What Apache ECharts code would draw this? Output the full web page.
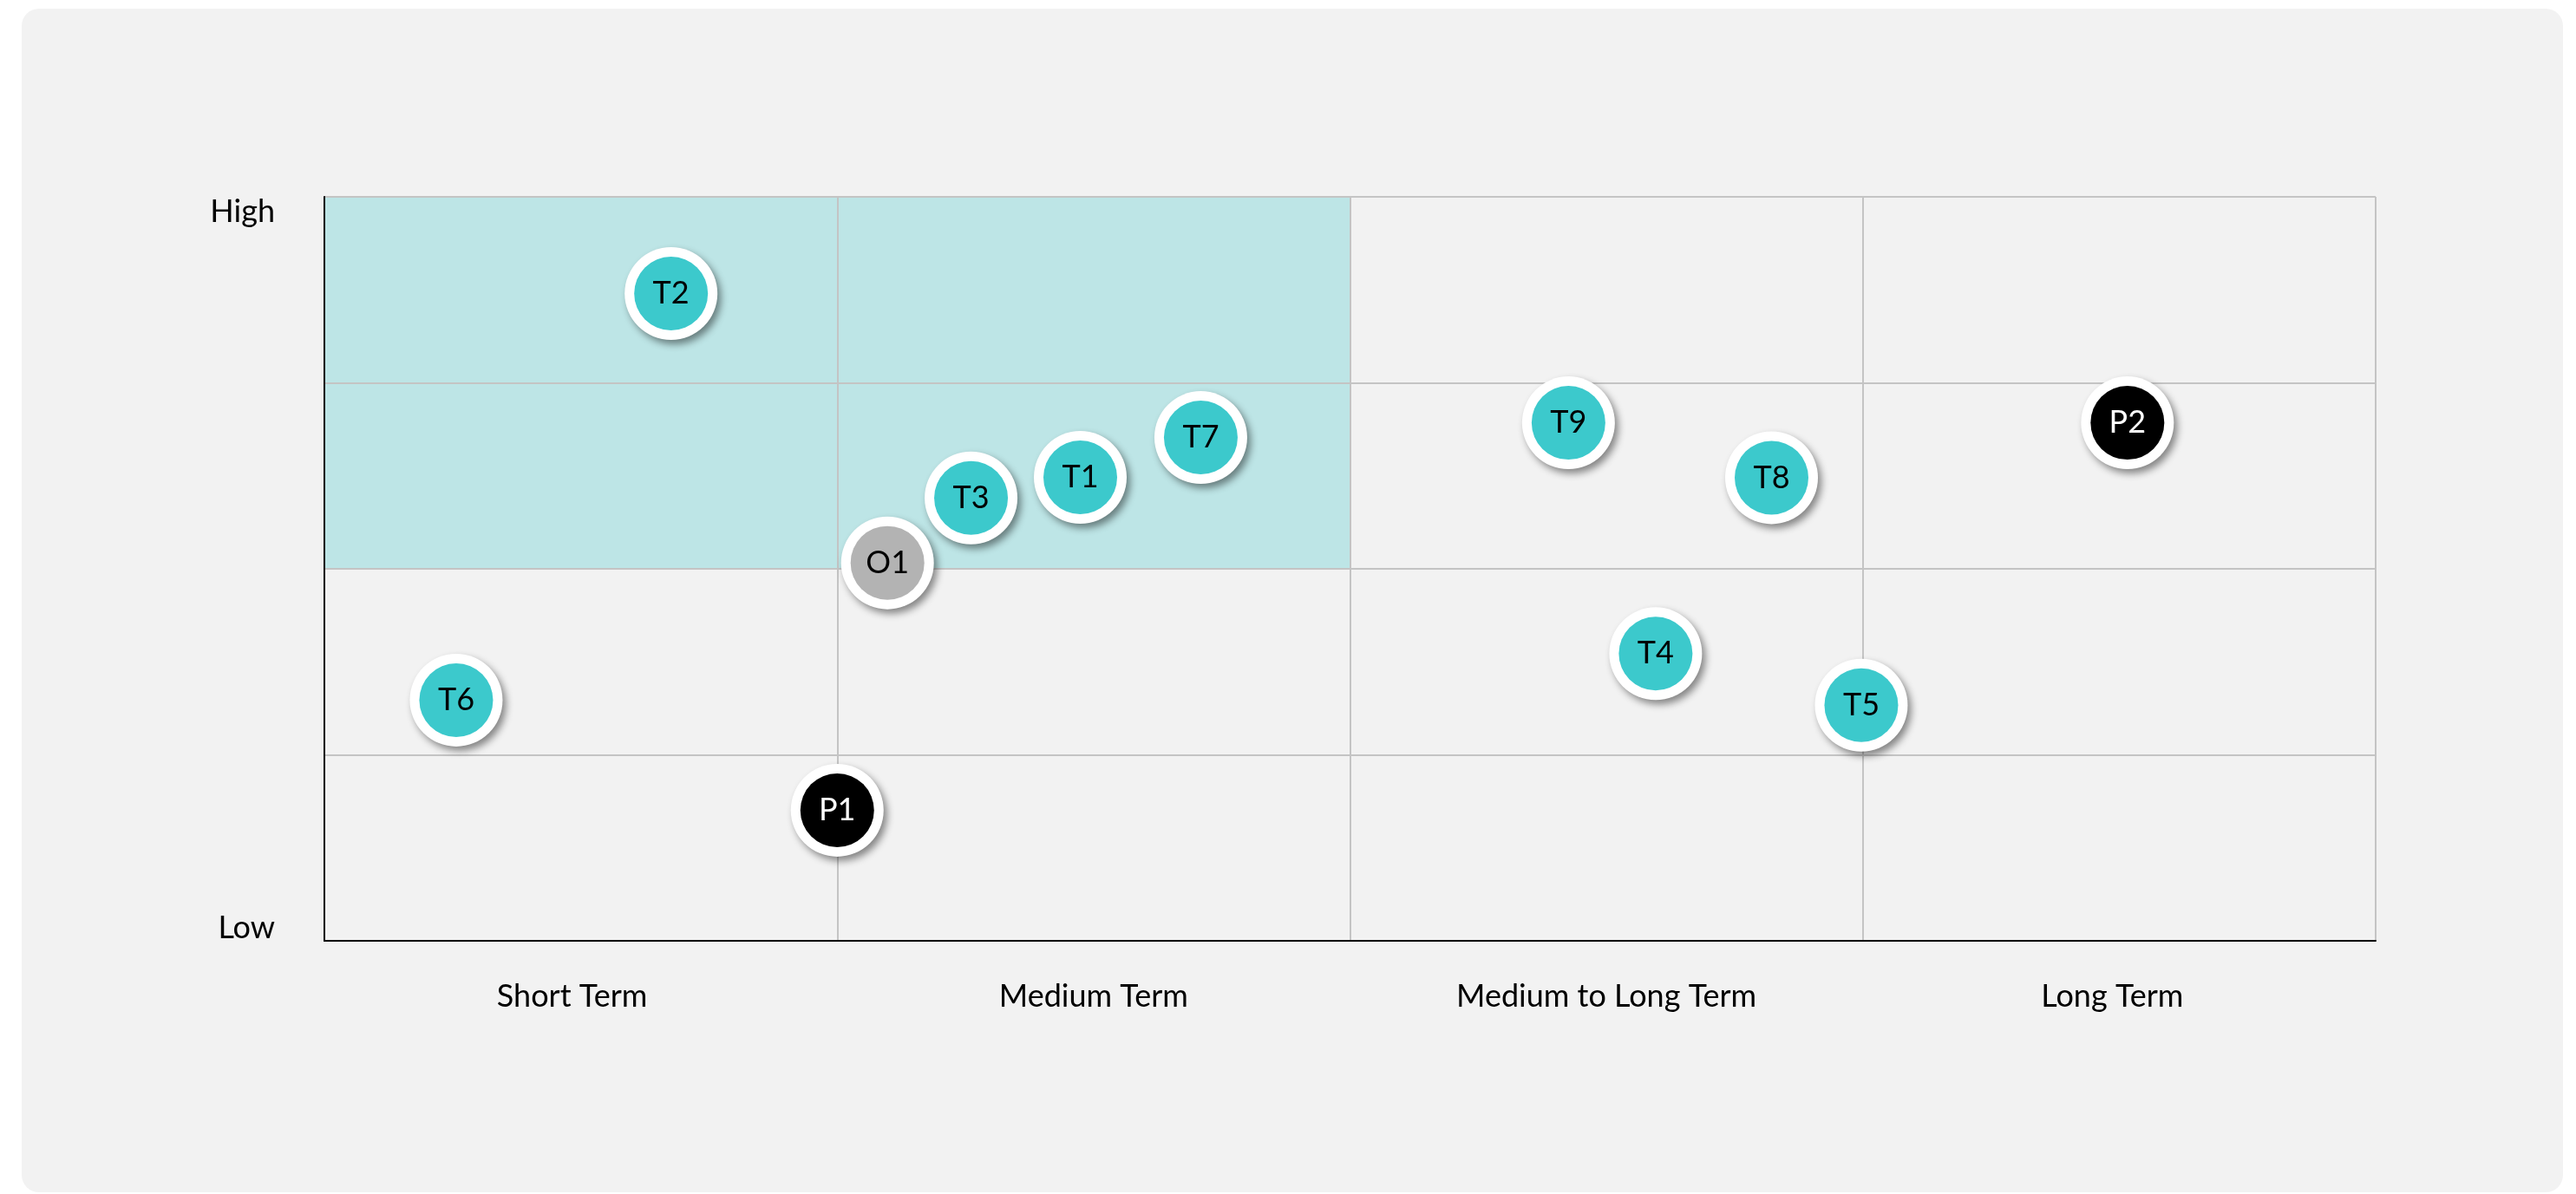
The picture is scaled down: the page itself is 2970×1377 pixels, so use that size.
<!DOCTYPE html>
<html>
<head>
<meta charset="utf-8">
<title>Priority matrix</title>
<script src="https://cdn.jsdelivr.net/npm/echarts@6/dist/echarts.min.js"></script>
<style>
	html, body { margin: 0; padding: 0; background: #ffffff; width: 2970px; height: 1377px; overflow: hidden; }
	#card { position: absolute; left: 25px; top: 10px; width: 2930px; height: 1365px; background: #f2f2f2; border-radius: 20px; }
	#chart { position: absolute; left: 0; top: 0; width: 2970px; height: 1377px; }
</style>
</head>
<body>
<div id="card"></div>
<div id="chart"></div>
<script>
// columns along the bottom
var termLabels = ['Short Term', 'Medium Term', 'Medium to Long Term', 'Long Term'];
// y axis ends
var levelLabels = { 0: 'Low', 4: 'High' };

// points: x is 0..4 over the term columns, y is 0..4 low to high
var pointNames = ['T1', 'T2', 'T3', 'T4', 'T5', 'T6', 'T7', 'T8', 'T9', 'P1', 'P2', 'O1'];
var pointX     = [1.474, 0.676, 1.261, 2.596, 2.997, 0.257, 1.709, 2.822, 2.426, 1.0, 3.516, 1.098];
var pointY     = [2.492, 3.48, 2.381, 1.544, 1.267, 1.294, 2.706, 2.49, 2.785, 0.702, 2.785, 2.032];
var pointKind  = ['T', 'T', 'T', 'T', 'T', 'T', 'T', 'T', 'T', 'P', 'P', 'O'];

// shaded quick-win block (x from, x to, y from, y to)
var focusX = [0, 2];
var focusY = [2, 4];

var kindColor = { T: '#3cc9cc', P: '#000000', O: '#b3b3b3' };
var kindText  = { T: '#000000', P: '#ffffff', O: '#000000' };

function pointsOf(kind){
	var out = [];
	for (var i = 0; i < pointNames.length; i++) {
		if (kind == null || pointKind[i] == kind) {
			out.push({ name: pointNames[i], value: [pointX[i], pointY[i]] });
		}
	}
	return out;
}

// white ring with the drop shadow, under every bubble
function ringSeries(){
	return {
		type: 'scatter',
		z: 4,
		symbol: 'circle',
		symbolSize: 107,
		data: pointsOf(null),
		itemStyle: {
			color: '#ffffff',
			opacity: 1,
			shadowColor: 'rgba(0,0,0,0.45)',
			shadowBlur: 8,
			shadowOffsetX: 4,
			shadowOffsetY: 5
		},
		silent: true,
		emphasis: { disabled: true }
	};
}

function bubbleSeries(kind){
	return {
		type: 'scatter',
		z: 5,
		symbol: 'circle',
		symbolSize: 85,
		data: pointsOf(kind),
		itemStyle: { color: kindColor[kind], opacity: 1 },
		label: {
			show: true,
			position: 'inside',
			formatter: '{b}',
			fontFamily: 'Lato',
			fontSize: 36,
			color: kindText[kind]
		},
		emphasis: { disabled: true }
	};
}

window.onload = function(){
	var my_chart = echarts.init(document.getElementById('chart'), null, { renderer: 'canvas' });
	my_chart.setOption({
		backgroundColor: 'transparent',
		animation: false,
		grid: { left: 374, top: 227, right: 231, bottom: 292, containLabel: false },
		xAxis: [
			{
				type: 'value',
				min: 0, max: 4, interval: 1,
				z: 3,
				axisLine: { show: true, lineStyle: { color: '#000000', width: 2 } },
				axisTick: { show: false },
				axisLabel: { show: false },
				splitLine: { show: true, lineStyle: { color: '#c4c4c4', width: 2 } }
			},
			{
				type: 'category',
				data: termLabels,
				position: 'bottom',
				boundaryGap: true,
				axisLine: { show: false },
				axisTick: { show: false },
				splitLine: { show: false },
				axisLabel: {
					margin: 46,
					formatter: function(v, i){
						// first and last names sit a little left of the column centre
						if (i == 0) return '{l|' + v + '}';
						if (i == 3) return '{r|' + v + '}';
						return '{m|' + v + '}';
					},
					rich: {
						m: { fontFamily: 'Lato', fontSize: 36, color: '#000000' },
						l: { fontFamily: 'Lato', fontSize: 36, color: '#000000', padding: [0, 20, 0, 0] },
						r: { fontFamily: 'Lato', fontSize: 36, color: '#000000', padding: [0, 16, 0, 0] }
					}
				}
			}
		],
		yAxis: {
			type: 'value',
			min: 0, max: 4, interval: 1,
			z: 3,
			axisLine: { show: true, lineStyle: { color: '#000000', width: 2 } },
			axisTick: { show: false },
			splitLine: { show: true, lineStyle: { color: '#c4c4c4', width: 2 } },
			axisLabel: {
				margin: 57,
				formatter: function(v){
					if (v == 4) return '{hi|' + levelLabels[4] + '}';
					if (v == 0) return '{lo|' + levelLabels[0] + '}';
					return '';
				},
				rich: {
					hi: { fontFamily: 'Lato', fontSize: 36, color: '#000000', padding: [34, 0, 0, 0] },
					lo: { fontFamily: 'Lato', fontSize: 36, color: '#000000', padding: [0, 0, 30, 0] }
				}
			}
		},
		series: [
			{
				type: 'scatter',
				z: 1,
				data: [],
				markArea: {
					silent: true,
					z: 1,
					itemStyle: { color: '#bde5e6', opacity: 1 },
					data: [[{ xAxis: focusX[0], yAxis: focusY[0] }, { xAxis: focusX[1], yAxis: focusY[1] }]]
				}
			},
			ringSeries(),
			bubbleSeries('T'),
			bubbleSeries('P'),
			bubbleSeries('O')
		]
	});
}
</script>
</body>
</html>
